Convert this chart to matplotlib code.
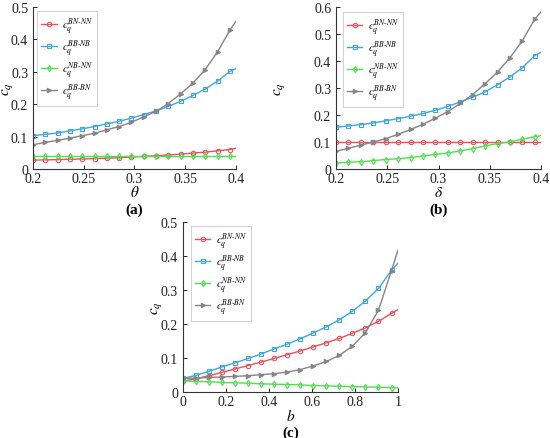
import numpy as np
import matplotlib
matplotlib.use("Agg")
import matplotlib.pyplot as plt

plt.rcParams['font.family'] = ['Liberation Serif', 'DejaVu Serif']
plt.rcParams['mathtext.fontset'] = 'stix'

# 横軸: 100点のうち6点ごとにマーカー, 最後に端点
theta = np.append(np.linspace(0.2, 0.4, 100)[::6], 0.4)
delta = np.append(np.linspace(0.2, 0.4, 100)[::6], 0.4)
b = np.append(np.linspace(0.0, 1.0, 100)[::6], 1.0)

# (a) θ
a_bn_nn = [0.0275, 0.028, 0.029, 0.030, 0.031, 0.032, 0.0335, 0.035, 0.037,
           0.039, 0.041, 0.043, 0.046, 0.049, 0.052, 0.056, 0.060, 0.064]
a_bb_nb = [0.103, 0.107, 0.111, 0.1175, 0.124, 0.131, 0.139, 0.1475, 0.157,
           0.168, 0.179, 0.193, 0.209, 0.227, 0.247, 0.271, 0.301, 0.310]
a_nb_nn = [0.041] * 18
a_bb_bn = [0.075, 0.082, 0.0887, 0.095, 0.103, 0.110, 0.121, 0.131, 0.144,
           0.161, 0.178, 0.202, 0.232, 0.265, 0.307, 0.361, 0.428, 0.456]

# (b) δ
b_bn_nn = [0.1] * 18
b_bb_nb = [0.154, 0.159, 0.164, 0.170, 0.178, 0.186, 0.195, 0.205, 0.217,
           0.231, 0.248, 0.265, 0.285, 0.311, 0.340, 0.374, 0.419, 0.431]
b_nb_nn = [0.022, 0.025, 0.027, 0.031, 0.035, 0.038, 0.042, 0.048, 0.054,
           0.059, 0.067, 0.075, 0.085, 0.094, 0.100, 0.110, 0.119, 0.123]
b_bb_bn = [0.065, 0.077, 0.088, 0.100, 0.112, 0.128, 0.146, 0.165, 0.188,
           0.212, 0.242, 0.275, 0.315, 0.358, 0.411, 0.474, 0.554, 0.580]

# (c) b
c_bn_nn = [0.032, 0.039, 0.048, 0.058, 0.068, 0.078, 0.088, 0.099, 0.110,
           0.121, 0.133, 0.145, 0.158, 0.173, 0.189, 0.208, 0.232, 0.243]
c_bb_nb = [0.040, 0.049, 0.061, 0.074, 0.086, 0.099, 0.112, 0.127, 0.141,
           0.157, 0.174, 0.192, 0.213, 0.238, 0.268, 0.305, 0.359, 0.380]
c_nb_nn = [0.033, 0.031, 0.030, 0.028, 0.027, 0.026, 0.024, 0.023, 0.022,
           0.021, 0.019, 0.018, 0.017, 0.016, 0.015, 0.014, 0.013, 0.012]
c_bb_bn = [0.040, 0.041, 0.043, 0.044, 0.046, 0.048, 0.051, 0.054, 0.059,
           0.066, 0.077, 0.090, 0.108, 0.135, 0.175, 0.241, 0.358, 0.418]

labels = [r'$c_q^{BN\text{-}NN}$', r'$c_q^{BB\text{-}NB}$',
          r'$c_q^{NB\text{-}NN}$', r'$c_q^{BB\text{-}BN}$']
colors = ['#e8505b', '#3ea6e6', '#4fe04f', '#858585']
markers = ['o', 's', 'd', '>']
filled = [False, False, False, True]


def パネルを描く(ax, x, series, xlabel, xlim, xticks, xticklabels, ylim, yticks,
           yticklabels, caption, ylab_x, xlab_y, leg_xy):
    for y, lab, col, mk, fl in zip(series, labels, colors, markers, filled):
        ax.plot(x, y, color=col, lw=1.0, marker=mk, markersize=3.2,
                markevery=list(range(len(x) - 1)),
                markerfacecolor=col if fl else 'none',
                markeredgecolor=col, markeredgewidth=0.8, label=lab)
    ax.set_xlim(*xlim)
    ax.set_ylim(*ylim)
    ax.set_xticks(xticks)
    ax.set_xticklabels(xticklabels)
    ax.set_yticks(yticks)
    ax.set_yticklabels(yticklabels)
    ax.spines['top'].set_visible(False)
    ax.spines['right'].set_visible(False)
    for s in ('left', 'bottom'):
        ax.spines[s].set_color('#333333')
        ax.spines[s].set_linewidth(0.8)
    ax.tick_params(direction='in', length=3, width=0.7, labelsize=10, pad=3.5,
                   colors='#222222')
    ax.tick_params(axis='x', pad=2.5)
    ax.set_xlabel(xlabel, fontsize=11)
    ax.xaxis.set_label_coords(0.5, xlab_y)
    ax.set_ylabel(r'$c_q$', fontsize=11)
    ax.yaxis.set_label_coords(ylab_x, 0.5)
    leg = ax.legend(loc='upper left', bbox_to_anchor=leg_xy, fontsize=8,
                    frameon=True, fancybox=False, handlelength=1.4,
                    labelspacing=0.12, borderpad=0.35, handletextpad=0.5,
                    borderaxespad=0)
    leg.get_frame().set_edgecolor('#bbbbbb')
    leg.get_frame().set_linewidth(0.6)
    ax.annotate(caption, xy=(0.5, 0), xycoords='axes fraction',
                xytext=(0, -40), textcoords='offset pixels', ha='center',
                va='center', fontsize=11, fontweight='bold')


fig = plt.figure(figsize=(5.5, 4.39), dpi=100)
ax1 = fig.add_axes([0.06, 0.6128, 0.369, 0.369])
ax2 = fig.add_axes([0.611, 0.6128, 0.3726, 0.370])
ax3 = fig.add_axes([0.3327, 0.1048, 0.391, 0.3865])

パネルを描く(ax1, theta, [a_bn_nn, a_bb_nb, a_nb_nn, a_bb_bn], r'$\theta$',
       (0.2, 0.4), [0.2, 0.25, 0.3, 0.35, 0.4], ['0.2', '0.25', '0.3', '0.35', '0.4'],
       (0, 0.5), [0, 0.1, 0.2, 0.3, 0.4, 0.5], ['0', '0.1', '0.2', '0.3', '0.4', '0.5'],
       '(a)', -0.09, -0.095, (0.02, 0.975))
パネルを描く(ax2, delta, [b_bn_nn, b_bb_nb, b_nb_nn, b_bb_bn], r'$\delta$',
       (0.2, 0.4), [0.2, 0.25, 0.3, 0.35, 0.4], ['0.2', '0.25', '0.3', '0.35', '0.4'],
       (0, 0.6), [0, 0.1, 0.2, 0.3, 0.4, 0.5, 0.6], ['0', '0.1', '0.2', '0.3', '0.4', '0.5', '0.6'],
       '(b)', -0.24, -0.10, (0.034, 0.965))
パネルを描く(ax3, b, [c_bn_nn, c_bb_nb, c_nb_nn, c_bb_bn], r'$b$',
       (0, 1), [0, 0.2, 0.4, 0.6, 0.8, 1], ['0', '0.2', '0.4', '0.6', '0.8', '1'],
       (0, 0.5), [0, 0.1, 0.2, 0.3, 0.4, 0.5], ['0', '0.1', '0.2', '0.3', '0.4', '0.5'],
       '(c)', -0.088, -0.09, (0.037, 0.976))

fig.savefig('out.png', dpi=100)
